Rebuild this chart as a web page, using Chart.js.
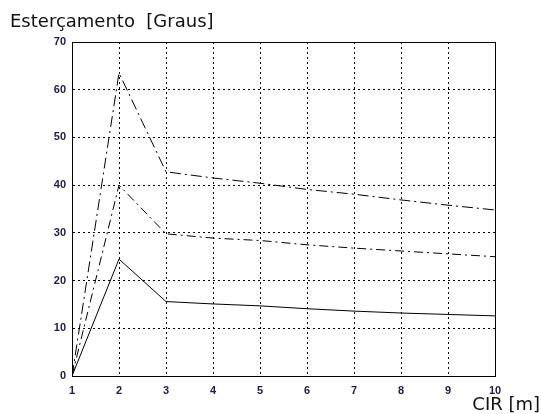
<!DOCTYPE html>
<html>
<head>
<meta charset="utf-8">
<script src="https://cdn.jsdelivr.net/npm/chart.js@4/dist/chart.umd.min.js"></script>
<style>
  html, body { margin: 0; padding: 0; background: #fff; }
  #wrap { width: 541px; height: 414px; }
</style>
</head>
<body>
<div id="wrap"><canvas id="myChart"></canvas></div>
<script>
// data
const cir = [1, 2, 3, 4, 5, 6, 7, 8, 9, 10];
const lowCurve = [0, 24.5, 15.6, 15.1, 14.7, 14.1, 13.6, 13.2, 12.9, 12.6];
const midCurve = [0, 40.0, 29.8, 28.9, 28.4, 27.5, 26.8, 26.2, 25.6, 25.0];
const highCurve = [0, 63.5, 42.8, 41.5, 40.4, 39.1, 38.1, 36.9, 35.8, 34.8];
const xTicks = [1, 2, 3, 4, 5, 6, 7, 8, 9, 10];
const yTicks = [0, 10, 20, 30, 40, 50, 60, 70];

const yTitle = "Esterçamento  [Graus]";
const xTitle = "CIR [m]";

const toPoints = (arr) => arr.map((v, i) => ({ x: cir[i], y: v }));

// frame + axis titles
const framePlugin = {
  id: "frame",
  afterDraw(chart) {
    const ctx = chart.ctx;
    const a = chart.chartArea;
    ctx.save();
    ctx.strokeStyle = "#000";
    ctx.lineWidth = 1;
    ctx.strokeRect(a.left + 0.5, a.top + 0.5, a.right - a.left, a.bottom - a.top);
    ctx.fillStyle = "#111";
    ctx.font = "18px 'DejaVu Sans'";
    ctx.textBaseline = "alphabetic";
    ctx.textAlign = "left";
    ctx.fillText(yTitle, 10, 27);
    ctx.textAlign = "right";
    ctx.fillText(xTitle, 540, 410);
    ctx.restore();
  },
};

const tickFont = { family: "'Liberation Sans'", size: 11, weight: "bold" };

new Chart("myChart", {
  type: "line",
  data: {
    datasets: [
      {
        data: toPoints(lowCurve),
        borderColor: "#000",
        borderWidth: 1,
        pointRadius: 0,
        fill: false,
        tension: 0,
      },
      {
        data: toPoints(midCurve),
        borderColor: "#000",
        borderWidth: 1,
        borderDash: [9, 4, 2, 4],
        pointRadius: 0,
        fill: false,
        tension: 0,
      },
      {
        data: toPoints(highCurve),
        borderColor: "#000",
        borderWidth: 1,
        borderDash: [11, 4, 2, 4],
        pointRadius: 0,
        fill: false,
        tension: 0,
      },
    ],
  },
  options: {
    responsive: true,
    maintainAspectRatio: false,
    animation: false,
    layout: { padding: { left: 0, right: 46, top: 42, bottom: 0 } },
    plugins: { legend: { display: false }, tooltip: { enabled: false } },
    scales: {
      x: {
        type: "linear",
        min: 1,
        max: 10,
        afterBuildTicks: (s) => { s.ticks = xTicks.map((v) => ({ value: v })); },
        afterFit: (s) => { s.height = 38; },
        grid: { color: "#000", lineWidth: 1, drawTicks: false },
        border: { display: true, color: "#000", width: 1, dash: [2, 3] },
        ticks: { font: tickFont, color: "#1c1c44", padding: 8, maxRotation: 0 },
      },
      y: {
        min: 0,
        max: 70,
        afterBuildTicks: (s) => { s.ticks = yTicks.map((v) => ({ value: v })); },
        afterFit: (s) => { s.width = 72; },
        grid: { color: "#000", lineWidth: 1, drawTicks: false },
        border: { display: true, color: "#000", width: 1, dash: [2, 3] },
        ticks: { font: tickFont, color: "#1c1c44", padding: 6 },
      },
    },
  },
  plugins: [framePlugin],
});
</script>
</body>
</html>
